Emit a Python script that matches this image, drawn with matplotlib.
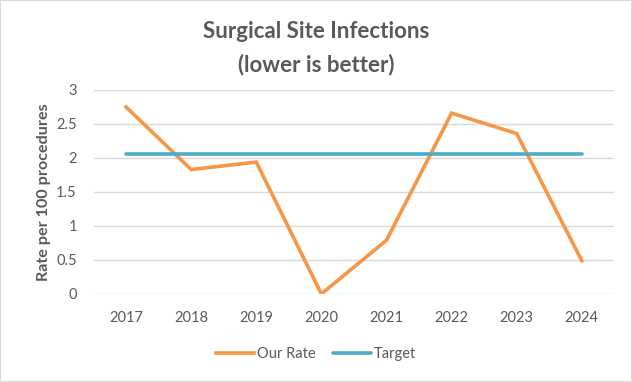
import matplotlib
matplotlib.use("Agg")
import matplotlib.pyplot as plt
from matplotlib.patches import Rectangle

years = ["2017", "2018", "2019", "2020", "2021", "2022", "2023", "2024"]
our_rate = [2.75, 1.83, 1.94, 0.0, 0.79, 2.66, 2.36, 0.49]
target = [2.06] * len(years)

plt.rcParams['font.family'] = ['Lato', 'DejaVu Sans']
grey = "#595959"

fig = plt.figure(figsize=(6.32, 3.82), dpi=100)
ax = fig.add_axes([0.148, 0.2304, 0.824, 0.534])

x = range(len(years))
ax.plot(x, our_rate, color="#F79646", lw=2.6, label="Our Rate", solid_joinstyle="miter")
ax.plot(x, target, color="#4BACC6", lw=2.6, label="Target", solid_capstyle="round")

ax.set_xlim(-0.5, len(years) - 0.5)
ax.set_ylim(0, 3)
ax.set_yticks([0, 0.5, 1, 1.5, 2, 2.5, 3])
ax.set_yticklabels(["0", "0.5", "1", "1.5", "2", "2.5", "3"])
ax.set_xticks(list(x))
ax.set_xticklabels(years)
ax.grid(axis="y", color="#D9D9D9", lw=1)
ax.set_axisbelow(True)
for s in ax.spines.values():
    s.set_visible(False)
ax.tick_params(axis="x", length=0, labelsize=10.5, labelcolor=grey, pad=12)
ax.tick_params(axis="y", length=0, labelsize=10.5, labelcolor=grey, pad=12)
ax.set_ylabel("Rate per 100 procedures", fontsize=11.6, fontweight="bold", color=grey, labelpad=4)

fig.text(0.5, 0.918, "Surgical Site Infections", ha="center", va="center",
         fontsize=16, fontweight="bold", color=grey)
fig.text(0.5, 0.832, "(lower is better)", ha="center", va="center",
         fontsize=16, fontweight="bold", color=grey)

fig.legend(loc="center", bbox_to_anchor=(0.5, 0.072), ncol=2, frameon=False,
           fontsize=10.5, labelcolor=grey, handlelength=2.6, handletextpad=0.2, columnspacing=1.2)

fig.patches.append(Rectangle((0, 0), 1, 1, transform=fig.transFigure, fill=False,
                             edgecolor="#D9D9D9", lw=1.5))

fig.savefig("out.png", dpi=100)
